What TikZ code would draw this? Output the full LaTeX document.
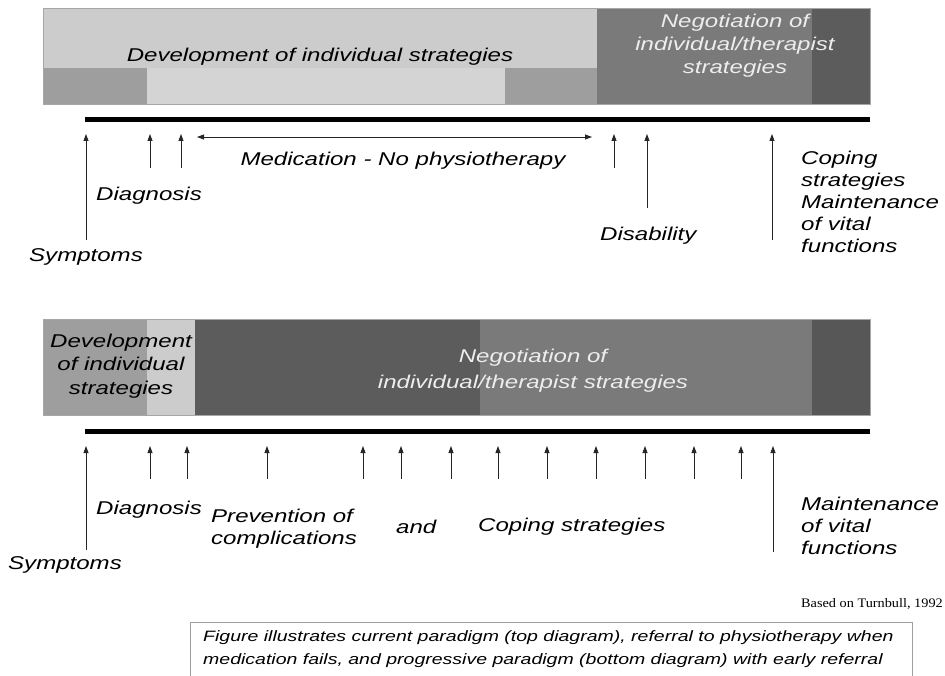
\documentclass[tikz,border=0pt]{standalone}
\usepackage{fontspec}
\setmainfont{Liberation Sans}[FakeStretch=1.3]
\newfontfamily\refserif{Liberation Serif}[FakeStretch=1.1]
\usetikzlibrary{arrows.meta}

\definecolor{devlight}{gray}{0.80}
\definecolor{devpale}{gray}{0.83}
\definecolor{devmid}{gray}{0.62}
\definecolor{negmid}{gray}{0.48}
\definecolor{negdark}{gray}{0.36}
\definecolor{negdeep}{gray}{0.34}
\definecolor{negtext}{gray}{0.93}

\tikzset{
  lbl/.style={font=\fontsize{18.5}{22}\selectfont\itshape, inner sep=0pt, anchor=west, align=left},
  barlbl/.style={font=\fontsize{18.5}{23.5}\selectfont\itshape, inner sep=0pt, align=center},
  upar/.style={draw=black!85, line width=0.8pt, -{Triangle[length=7pt,width=5pt]}},
  spanar/.style={draw=black!85, line width=0.8pt, {Triangle[length=7pt,width=5pt]}-{Triangle[length=7pt,width=5pt]}},
  timeline/.style={line width=5pt, black},
  barframe/.style={draw=gray!70, line width=0.6pt}
}

\begin{document}
\begin{tikzpicture}[x=1pt,y=-1pt]
\useasboundingbox (0,0) rectangle (945,676);

% ---------- current paradigm: phase bar ----------
\fill[devlight] (43,8) rectangle (597,68);
\fill[devpale] (147,68) rectangle (505,104);
\fill[devmid] (43,68) rectangle (147,104);
\fill[devmid] (505,68) rectangle (597,104);
\fill[negmid] (597,8) rectangle (812,104);
\fill[negdark] (812,8) rectangle (870,104);
\draw[barframe] (43,8) rectangle (870,104);

\node[barlbl] (devtop) at (320,57) {Development of individual strategies};
\node[barlbl, text=negtext, font=\fontsize{18.5}{23}\selectfont\itshape] (negtop) at (735,46)
  {Negotiation of\\individual/therapist\\strategies};

% time line
\coordinate (tlA0) at (85,120);
\coordinate (tlA1) at (870,120);
\draw[timeline] (tlA0) -- (tlA1);

% events
\coordinate (a1t) at (86,240);  \coordinate (a1h) at (86,134);
\coordinate (a2t) at (150,168); \coordinate (a2h) at (150,134);
\coordinate (a3t) at (181,168); \coordinate (a3h) at (181,134);
\coordinate (a4t) at (614,168); \coordinate (a4h) at (614,134);
\coordinate (a5t) at (647,208); \coordinate (a5h) at (647,134);
\coordinate (a6t) at (772,240); \coordinate (a6h) at (772,134);
\foreach \i in {1,...,6} { \draw[upar] (a\i t) -- (a\i h); }

\coordinate (medL) at (197,137);
\coordinate (medR) at (592,137);
\draw[spanar] (medL) -- (medR);

\node[lbl] (diagtop) at (96,196) {Diagnosis};
\node[lbl] (symtop) at (29,257) {Symptoms};
\node[lbl, anchor=center] (medtop) at (403,161) {Medication - No physiotherapy};
\node[lbl] (distop) at (600,236) {Disability};
\node[lbl] (copetop) at (801,202) {Coping\\strategies\\Maintenance\\of vital\\functions};

% ---------- progressive paradigm: phase bar ----------
\fill[devmid] (43,319) rectangle (147,415);
\fill[devlight] (147,319) rectangle (195,415);
\fill[negdark] (195,319) rectangle (480,415);
\fill[negmid] (480,319) rectangle (812,415);
\fill[negdeep] (812,319) rectangle (870,415);
\draw[barframe] (43,319) rectangle (870,415);

\node[barlbl] (devbot) at (121,366) {Development\\of individual\\strategies};
\node[barlbl, text=negtext, font=\fontsize{18.5}{26}\selectfont\itshape] (negbot) at (533,371)
  {Negotiation of\\individual/therapist strategies};

\coordinate (tlB0) at (85,431);
\coordinate (tlB1) at (870,431);
\draw[timeline] (tlB0) -- (tlB1);

\foreach \x [count=\i] in {86,150,187,267,363,401,451,498,547,596,645,694,741,773} {
  \coordinate (b\i h) at (\x,446);
  \coordinate (b\i t) at (\x,479);
}
\coordinate (b1t) at (86,550);
\coordinate (b14t) at (773,552);
\foreach \i in {1,...,14} { \draw[upar] (b\i t) -- (b\i h); }

\node[lbl] (diagbot) at (96,510) {Diagnosis};
\node[lbl] (prevbot) at (211,529) {Prevention of\\complications};
\node[lbl] (andbot) at (396,527) {and};
\node[lbl] (copebot) at (478,527) {Coping strategies};
\node[lbl] (maintbot) at (801,526) {Maintenance\\of vital\\functions};
\node[lbl] (symbot) at (8,565) {Symptoms};

% ---------- source and caption ----------
\node[anchor=east, inner sep=0pt, font=\refserif\fontsize{13}{15}\selectfont] (source) at (943,604)
  {Based on Turnbull, 1992};

\draw[draw=gray!75, line width=0.7pt] (190,700) -- (190,622) -- (912,622) -- (912,700);
\node[anchor=north west, inner sep=0pt, align=left,
      font=\fontsize{15}{23.5}\selectfont\itshape] (caption) at (203,630)
  {Figure illustrates current paradigm (top diagram), referral to physiotherapy when\\
   medication fails, and progressive paradigm (bottom diagram) with early referral};
\end{tikzpicture}
\end{document}
